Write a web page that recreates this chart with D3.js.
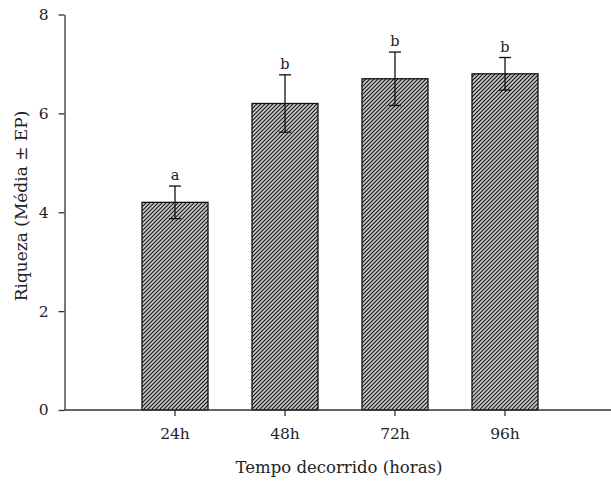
<!DOCTYPE html>
<html><head><meta charset="utf-8">
<script src="https://cdn.jsdelivr.net/npm/d3@7"></script>
<style>body{margin:0;background:#fff;} svg{display:block;}</style>
</head><body>
<svg id="chart" width="611" height="481"></svg>
<script>
const categories = ["24h", "48h", "72h", "96h"];
const means = [4.2, 6.2, 6.7, 6.8];
const errors = [0.33, 0.58, 0.54, 0.33];
const letters = ["a", "b", "b", "b"];
const yTicks = [0, 2, 4, 6, 8];

const svg = d3.select("#chart");
const font = "'DejaVu Serif', Georgia, serif";
const x0 = 64.5, xEnd = 611;
const x = d3.scaleBand().domain(categories).range([120, 560]).paddingInner(0.4).paddingOuter(0.2);
const y = d3.scaleLinear().domain([0, 8]).range([410, 14.5]);

const defs = svg.append("defs");
const pw = 2.83;
const pat = defs.append("pattern").attr("id", "hatch").attr("patternUnits", "userSpaceOnUse")
  .attr("width", pw).attr("height", pw).attr("patternTransform", "rotate(45)");
pat.append("rect").attr("width", pw).attr("height", pw).attr("fill", "#cacaca");
pat.append("rect").attr("x", 0).attr("y", 0).attr("width", 1.0).attr("height", pw).attr("fill", "#111");

// bars
svg.selectAll("rect.bar").data(categories).join("rect").attr("class", "bar")
  .attr("x", d => x(d)).attr("width", x.bandwidth())
  .attr("y", (d, i) => y(means[i])).attr("height", (d, i) => y(0) - y(means[i]))
  .attr("fill", "url(#hatch)").attr("stroke", "#111").attr("stroke-width", 1.3);

// error bars
const eb = svg.append("g").attr("stroke", "#111").attr("stroke-width", 1.3);
categories.forEach((c, i) => {
  const cx = x(c) + x.bandwidth() / 2;
  eb.append("line").attr("x1", cx).attr("x2", cx).attr("y1", y(means[i] + errors[i])).attr("y2", y(means[i] - errors[i]));
  [means[i] + errors[i], means[i] - errors[i]].forEach(v => {
    eb.append("line").attr("x1", cx - 6).attr("x2", cx + 6).attr("y1", y(v)).attr("y2", y(v));
  });
  svg.append("text").attr("x", cx).attr("y", y(means[i] + errors[i]) - 6)
    .attr("text-anchor", "middle").attr("font-family", font).attr("font-size", 14.5).attr("fill", "#222")
    .text(letters[i]);
});

// y axis
const yAxis = svg.append("g").attr("transform", `translate(${x0},0)`)
  .call(d3.axisLeft(y).tickValues(yTicks).tickSize(6).tickPadding(10).tickSizeOuter(0));
yAxis.select(".domain").attr("stroke", "#333").attr("stroke-width", 1.3);
yAxis.selectAll(".tick line").attr("stroke", "#333").attr("stroke-width", 1.3);
yAxis.selectAll("text").attr("font-family", font).attr("font-size", 15.5).attr("fill", "#222");

// x axis
svg.append("line").attr("x1", x0).attr("x2", xEnd).attr("y1", y(0)).attr("y2", y(0))
  .attr("stroke", "#333").attr("stroke-width", 1.3);
const xAxis = svg.append("g").attr("transform", `translate(0,${y(0)})`)
  .call(d3.axisBottom(x).tickSize(6).tickPadding(12).tickSizeOuter(0));
xAxis.select(".domain").remove();
xAxis.selectAll(".tick line").attr("stroke", "#333").attr("stroke-width", 1.3);
xAxis.selectAll("text").attr("font-family", font).attr("font-size", 15.5).attr("fill", "#222");

// labels
svg.append("text").attr("x", 339).attr("y", 473).attr("text-anchor", "middle")
  .attr("font-family", font).attr("font-size", 16.5).attr("fill", "#222").text("Tempo decorrido (horas)");
svg.append("text").attr("transform", "translate(27,206) rotate(-90)").attr("text-anchor", "middle")
  .attr("font-family", font).attr("font-size", 17).attr("fill", "#222").text("Riqueza (Média ± EP)");
</script>
</body></html>
